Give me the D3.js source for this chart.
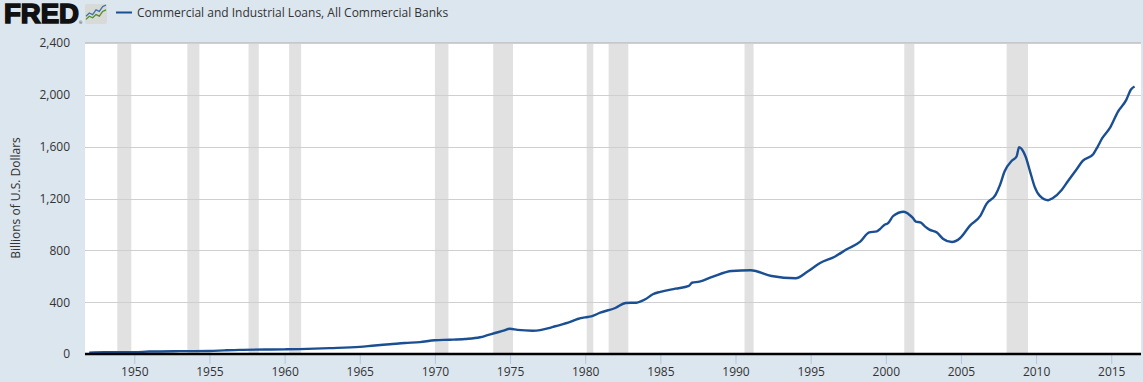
<!DOCTYPE html>
<html>
<head>
<meta charset="utf-8">
<script src="https://cdn.jsdelivr.net/npm/d3@7"></script>
<style>
html,body{margin:0;padding:0;background:#dce6ef;overflow:hidden}
svg{display:block}
text{font-family:"Open Sans",sans-serif;fill:#333}
</style>
</head>
<body>
<svg id="c" width="1143" height="382"></svg>
<script>
const seriesName = "Commercial and Industrial Loans, All Commercial Banks";
const yAxisTitle = "Billions of U.S. Dollars";
const yTicks = [0,400,800,1200,1600,2000,2400];
const xTicks = [1950,1955,1960,1965,1970,1975,1980,1985,1990,1995,2000,2005,2010,2015];
const recessions = [[1948.87,1949.8],[1953.53,1954.33],[1957.6,1958.28],[1960.3,1961.1],[1970.0,1970.9],[1973.88,1975.2],[1980.1,1980.54],[1981.56,1982.87],[1990.6,1991.2],[2001.23,2001.9],[2008.04,2009.46]];
const years = [1947,1948,1950,1951,1953,1955,1956,1957,1960,1961,1963,1965,1966,1967,1968,1969,1970,1971,1972,1973,1973.5,1974,1974.5,1975,1975.5,1976.5,1977,1977.5,1978,1979,1979.5,1980,1980.4,1981,1982,1982.7,1983.4,1984,1984.5,1985,1986,1986.9,1987.1,1987.6,1988.5,1989.75,1991,1992.4,1994,1994.8,1995.6,1996.6,1997.4,1998.3,1998.9,1999.4,1999.6,1999.9,2000.15,2000.5,2001.2,2001.5,2001.8,2002,2002.3,2002.6,2002.9,2003.4,2003.8,2004.4,2004.95,2005.6,2006.3,2006.7,2007.3,2007.6,2007.9,2008.4,2008.7,2008.87,2009.3,2009.6,2009.9,2010.25,2010.8,2011.1,2011.7,2012.1,2012.7,2013.1,2013.8,2014.1,2014.4,2014.9,2015.45,2016,2016.3,2016.55];
const loans = [10,13,14,19,22,23,28,32,36,38,45,55,66,75,85,92,106,110,116,129,145,162,178,195,186,180,184,198,214,247,270,283,290,319,355,394,396,422,461,480,504,525,550,558,597,641,646,602,584,636,700,751,808,867,939,946,963,996,1010,1066,1098,1081,1050,1022,1016,985,960,937,890,864,895,991,1068,1158,1228,1305,1408,1493,1524,1596,1524,1408,1292,1220,1187,1202,1266,1331,1426,1490,1542,1601,1665,1743,1871,1961,2039,2064];

const svg = d3.select("#c");
const plotLeft = 85, plotRight = 1141, plotTop = 43, plotBottom = 354;
// 1950 falls at x=134.3, 15.03 px per year
const x = d3.scaleLinear().domain([1950 + (plotLeft-134.3)/15.03, 1950 + (plotRight-134.3)/15.03]).range([plotLeft,plotRight]);
const y = d3.scaleLinear().domain([0,2400]).range([plotBottom,plotTop]);

svg.append("rect").attr("x",plotLeft).attr("y",plotTop).attr("width",plotRight-plotLeft).attr("height",plotBottom-plotTop).attr("fill","#fff");
svg.append("line").attr("x1",plotLeft).attr("x2",plotRight).attr("y1",plotTop-0.5).attr("y2",plotTop-0.5).attr("stroke","#c8c8c8");

svg.append("g").selectAll("rect").data(recessions).join("rect")
  .attr("x",d=>x(d[0])).attr("width",d=>x(d[1])-x(d[0]))
  .attr("y",plotTop).attr("height",plotBottom-plotTop).attr("fill","#e1e1e1");

// y axis + grid
const gy = svg.append("g").attr("transform",`translate(${plotLeft},0)`)
  .call(d3.axisLeft(y).tickValues(yTicks).tickSize(0).tickPadding(15).tickFormat(d3.format(",")));
gy.select(".domain").remove();
gy.selectAll("text").attr("font-size",12).style("font-family",'"Open Sans",sans-serif').style("fill","#333");
svg.append("g").selectAll("line").data(yTicks.filter(d=>d>0)).join("line")
  .attr("x1",plotLeft).attr("x2",plotRight).attr("y1",d=>Math.round(y(d))+0.5).attr("y2",d=>Math.round(y(d))+0.5)
  .attr("stroke","#cfcfcf").attr("stroke-width",1);

// x axis
const gx = svg.append("g").attr("transform",`translate(0,${plotBottom})`)
  .call(d3.axisBottom(x).tickValues(xTicks).tickSize(10).tickPadding(3).tickFormat(d3.format("d")));
gx.select(".domain").remove();
gx.selectAll("line").attr("stroke","#b4c6dc");
gx.selectAll("text").attr("font-size",12).style("font-family",'"Open Sans",sans-serif').style("fill","#333");

// line
svg.append("path").datum(years.map((d,i)=>[d,loans[i]]))
  .attr("fill","none").attr("stroke","#1b4f93").attr("stroke-width",2.4).attr("stroke-linejoin","round")
  .attr("d",d3.line().curve(d3.curveMonotoneX).x(d=>x(d[0])).y(d=>y(d[1])));

svg.append("line").attr("x1",plotLeft).attr("x2",plotRight).attr("y1",plotBottom).attr("y2",plotBottom).attr("stroke","#000").attr("stroke-width",2.5);

// axis title
svg.append("text").attr("transform","translate(20,198) rotate(-90)").attr("text-anchor","middle").attr("font-size",12).text(yAxisTitle);

// header
svg.append("text").attr("x",4).attr("y",23).attr("font-size",27).attr("font-weight",700)
  .style("font-family",'"Liberation Sans",sans-serif').style("fill","#111")
  .attr("stroke","#111").attr("stroke-width",1.6).attr("textLength",75).attr("lengthAdjust","spacingAndGlyphs").text("FRED");
svg.append("text").attr("x",79).attr("y",24).attr("font-size",4).style("fill","#111").text("®");
const icon = svg.append("g").attr("transform","translate(85,4)");
icon.append("rect").attr("width",22).attr("height",20).attr("rx",2).attr("fill","#d8dad8");
const ix = d3.scaleLinear().domain([0,6]).range([1,21]);
const iy = d3.scaleLinear().domain([0,10]).range([17,1]);
const iconBlue = [3,5,4,7,6,9,10], iconGreen = [1,3,2,4,3,6,7];
const il = d3.line().x((d,i)=>ix(i)).y(d=>iy(d));
icon.append("path").attr("d",il(iconBlue)).attr("fill","none").attr("stroke","#3f74a8").attr("stroke-width",1.3);
icon.append("path").attr("d",il(iconGreen)).attr("fill","none").attr("stroke","#4f8f2a").attr("stroke-width",1.3);

svg.append("line").attr("x1",116).attr("x2",132).attr("y1",12.5).attr("y2",12.5).attr("stroke","#1b4f93").attr("stroke-width",2);
svg.append("text").attr("x",137).attr("y",17).attr("font-size",12).text(seriesName);
</script>
</body>
</html>
